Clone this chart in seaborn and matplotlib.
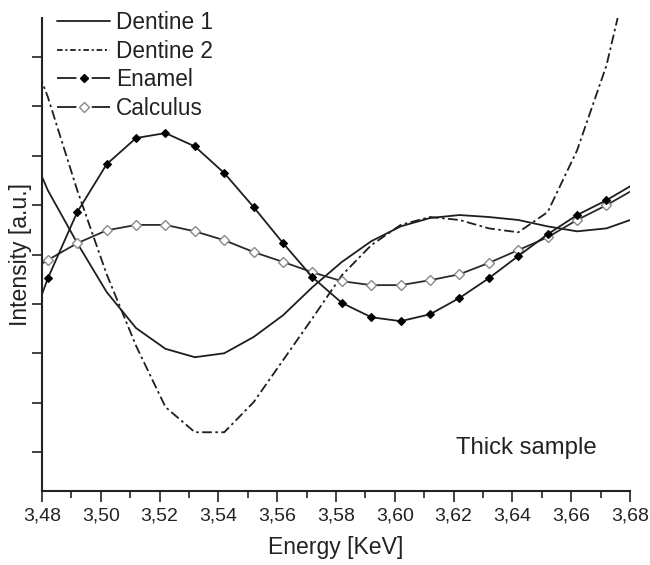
import matplotlib
matplotlib.use("Agg")
import matplotlib.pyplot as plt
from matplotlib.lines import Line2D
from matplotlib.ticker import MultipleLocator
import pandas as pd
import seaborn as sns

# Dados (unidades arbitrárias)
energy = [3.472, 3.482, 3.492, 3.502, 3.512, 3.522, 3.532, 3.542, 3.552, 3.562, 3.572,
          3.582, 3.592, 3.602, 3.612, 3.622, 3.632, 3.642, 3.652, 3.662, 3.672, 3.682]
dentine1 = [7.68, 6.30, 5.23, 4.24, 3.51, 3.09, 2.92, 3.00, 3.33, 3.77, 4.34,
            4.85, 5.27, 5.57, 5.74, 5.80, 5.76, 5.70, 5.57, 5.47, 5.53, 5.74]
dentine2 = [9.74, 8.19, 6.30, 4.60, 3.15, 1.91, 1.40, 1.40, 2.01, 2.86, 3.71,
            4.58, 5.19, 5.60, 5.76, 5.70, 5.53, 5.45, 5.86, 7.11, 8.83, 11.36]
enamel = [2.90, 4.52, 5.86, 6.83, 7.36, 7.46, 7.19, 6.65, 5.96, 5.23, 4.54,
          4.02, 3.73, 3.65, 3.79, 4.12, 4.52, 4.97, 5.41, 5.80, 6.10, 6.45]
calculus = [4.52, 4.89, 5.23, 5.49, 5.60, 5.60, 5.47, 5.29, 5.05, 4.85, 4.64,
            4.46, 4.38, 4.38, 4.48, 4.60, 4.83, 5.09, 5.35, 5.70, 6.00, 6.34]
x_ticks = [3.48, 3.50, 3.52, 3.54, 3.56, 3.58, 3.60, 3.62, 3.64, 3.66, 3.68]

df = pd.DataFrame({'energy': energy, 'Dentine 1': dentine1, 'Dentine 2': dentine2,
                   'Enamel': enamel, 'Calculus': calculus})

sns.set_style('ticks')
plt.rcParams['font.family'] = ['Liberation Sans', 'DejaVu Sans']
plt.rcParams['lines.scale_dashes'] = False

fig = plt.figure(figsize=(6.5, 5.65), dpi=100)
ax = fig.add_axes([0.0646, 0.131, 0.9046, 0.837])

line_col = '#1e1e1e'
txt_col = '#222222'
dash_dot = (0, (7, 2.5, 1.8, 2.5))

sns.lineplot(data=df, x='energy', y='Dentine 1', ax=ax, color=line_col, linewidth=1.3)
sns.lineplot(data=df, x='energy', y='Dentine 2', ax=ax, color=line_col, linewidth=1.3,
             linestyle=dash_dot)
sns.lineplot(data=df, x='energy', y='Calculus', ax=ax, color='#2a2a2a', linewidth=1.3,
             marker='D', markersize=5, markerfacecolor='white',
             markeredgecolor='#8a8a8a', markeredgewidth=1.0)
sns.lineplot(data=df, x='energy', y='Enamel', ax=ax, color=line_col, linewidth=1.3,
             marker='D', markersize=4.5, markerfacecolor='black',
             markeredgecolor='black', markeredgewidth=0.8)

ax.set_xlim(3.48, 3.68)
ax.set_ylim(0.21, 9.79)
ax.set_xticks(x_ticks)
ax.set_xticklabels([f'{t:.2f}'.replace('.', ',') for t in x_ticks])
ax.xaxis.set_minor_locator(MultipleLocator(0.01))
ax.yaxis.set_major_locator(MultipleLocator(1))
ax.tick_params(axis='y', labelleft=False, length=7, width=1.2, direction='out',
               colors=txt_col)
ax.tick_params(axis='x', which='major', length=8, width=1.2, labelsize=14,
               pad=4, direction='out', colors=txt_col)
ax.tick_params(axis='x', which='minor', length=5, width=1.2, direction='out',
               colors=txt_col)
for s in ['top', 'right']:
    ax.spines[s].set_visible(False)
for s in ['left', 'bottom']:
    ax.spines[s].set_linewidth(1.5)
    ax.spines[s].set_color(txt_col)

ax.set_xlabel('Energy [KeV]', fontsize=16.6, labelpad=8, color=txt_col)
ax.set_ylabel('Intensity [a.u.]', fontsize=16.6, labelpad=0, color=txt_col)

ax.text(3.6446, 1.08, 'Thick sample', fontsize=17.2, ha='center', va='center', color=txt_col)

# Legenda no estilo linha-símbolo-linha
seg = (0, (14, 11))
handles = [
    Line2D([], [], color=line_col, lw=1.3),
    Line2D([], [], color=line_col, lw=1.3, linestyle=(0, (4, 2, 1.5, 2))),
    Line2D([], [], color=line_col, lw=1.3, linestyle=seg, marker='D', markersize=4.5,
           markerfacecolor='black', markeredgecolor='black'),
    Line2D([], [], color=line_col, lw=1.3, linestyle=seg, marker='D', markersize=5,
           markerfacecolor='white', markeredgecolor='#8a8a8a'),
]
labels = ['Dentine 1', 'Dentine 2', 'Enamel', 'Calculus']
leg = ax.legend(handles, labels, loc='upper left', bbox_to_anchor=(0.0255, 1.015),
                frameon=False, fontsize=16.3, handlelength=2.35, handletextpad=0.27,
                labelspacing=0.25, borderpad=0, borderaxespad=0, numpoints=1)
for t in leg.get_texts():
    t.set_color(txt_col)

fig.savefig('out.png', dpi=100)
